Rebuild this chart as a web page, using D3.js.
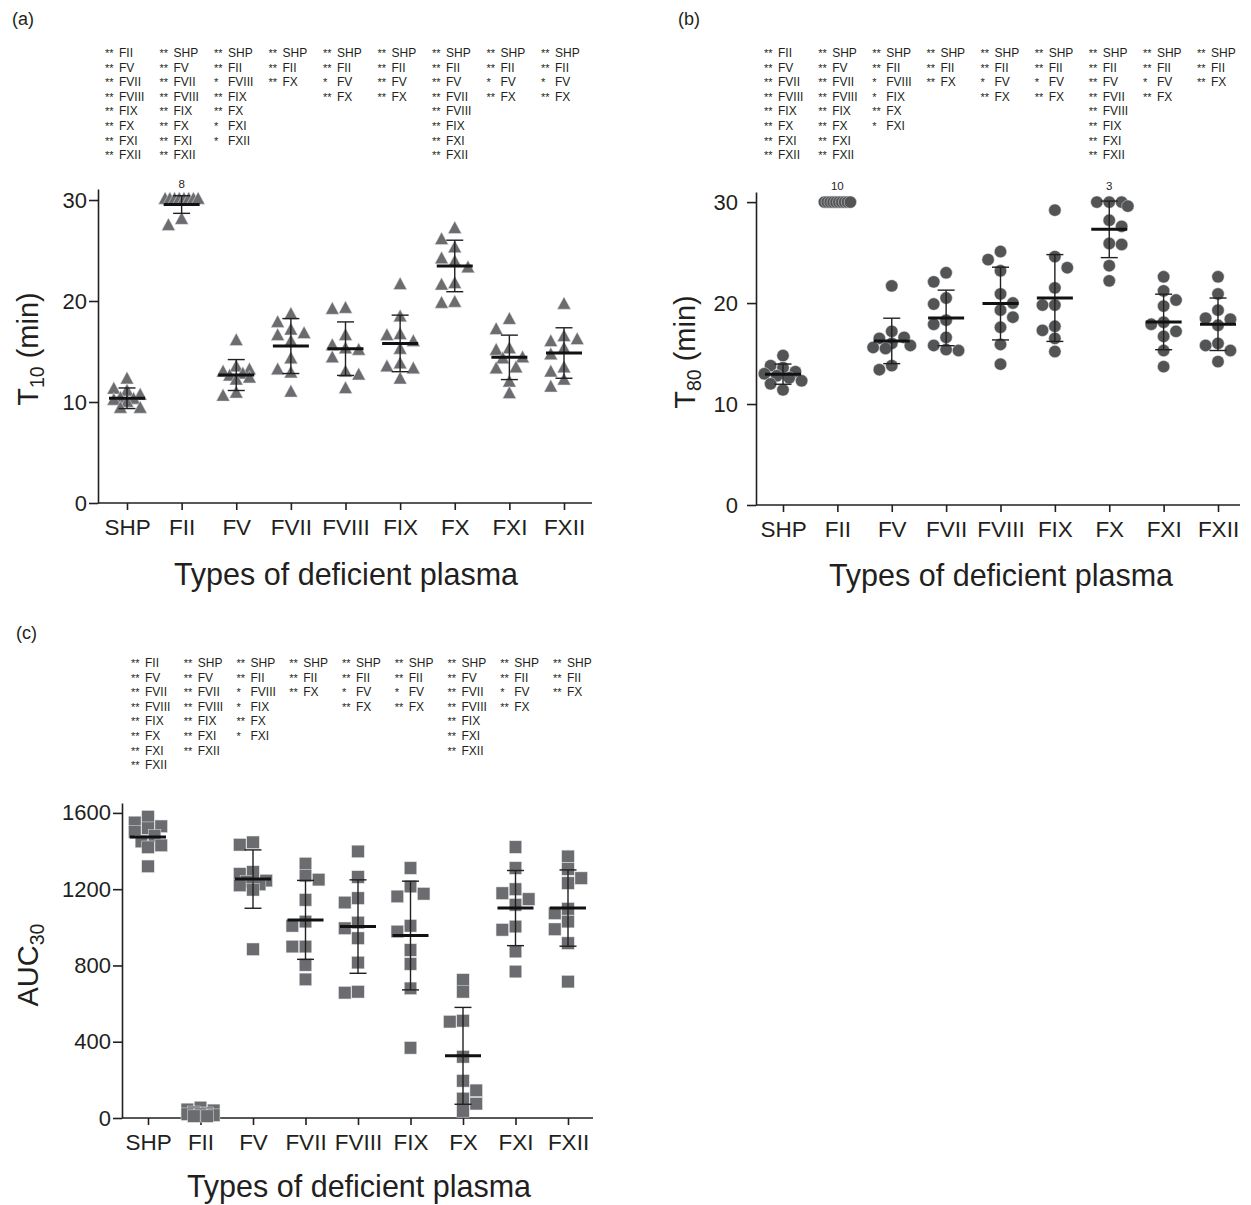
<!DOCTYPE html>
<html>
<head>
<meta charset="utf-8">
<script src="https://cdn.jsdelivr.net/npm/d3@7"></script>
<style>
  body { margin: 0; background: #fff; }
  svg { display: block; }
</style>
</head>
<body>
<svg id="chart" width="1251" height="1205"></svg>
<script>
// ---------------- DATA ----------------
const categories = ["SHP", "FII", "FV", "FVII", "FVIII", "FIX", "FX", "FXI", "FXII"];

// Panel (a): T10 (min), 10 plasmas per group (values capped at 30)
const t10Values = [
  [12.2, 11.2, 11.0, 10.6, 10.3, 10.2, 10.1, 9.9, 9.3, 9.3],
  [30, 30, 30, 30, 30, 30, 30, 30, 28.0, 27.4],
  [16.0, 13.4, 13.1, 12.9, 12.7, 12.5, 12.3, 12.1, 10.8, 10.5],
  [18.6, 17.8, 17.05, 16.7, 16.5, 15.9, 14.2, 13.1, 12.8, 10.9],
  [19.2, 19.1, 16.5, 15.5, 15.2, 15.05, 14.3, 12.9, 12.6, 11.25],
  [21.55, 18.35, 16.6, 16.5, 15.9, 15.15, 13.7, 13.4, 13.2, 12.2],
  [27.1, 26.0, 25.2, 24.1, 23.8, 23.2, 21.65, 21.5, 19.8, 19.7],
  [18.1, 17.1, 15.2, 15.05, 14.3, 14.2, 13.3, 13.2, 11.9, 10.75],
  [19.6, 16.4, 16.1, 15.9, 15.2, 14.6, 13.3, 12.9, 12.1, 11.4]
];
const t10Mean = [10.37, 29.55, 12.67, 15.54, 15.28, 15.8, 23.47, 14.42, 14.85];
const t10SD   = [1.02, 0.87, 1.53, 2.72, 2.65, 2.8, 2.55, 2.2, 2.5];

// Panel (b): T80 (min)
const t80Values = [
  [14.8, 13.8, 13.6, 13.2, 13.0, 12.8, 12.6, 12.3, 12.0, 11.4],
  [30, 30, 30, 30, 30, 30, 30, 30, 30, 30],
  [21.7, 17.2, 16.6, 16.5, 16.0, 15.8, 15.6, 15.5, 13.8, 13.4],
  [23.0, 22.1, 20.5, 19.9, 18.3, 17.9, 16.6, 15.8, 15.4, 15.3],
  [25.1, 24.3, 23.2, 20.9, 20.0, 19.3, 18.6, 17.6, 15.9, 13.95],
  [29.2, 24.6, 23.5, 21.5, 19.8, 19.8, 17.7, 17.3, 16.5, 15.2],
  [30, 30, 30, 29.6, 28.2, 27.6, 25.9, 25.8, 23.7, 22.2],
  [22.6, 21.2, 20.3, 19.7, 18.1, 17.9, 17.2, 16.7, 15.3, 13.7],
  [22.6, 20.9, 19.3, 18.5, 18.4, 17.8, 16.0, 15.8, 15.3, 14.2]
];
const t80Mean = [12.96, null, 16.25, 18.53, 19.95, 20.5, 27.3, 18.13, 17.9];
const t80SD   = [1.0, null, 2.25, 2.75, 3.6, 4.3, 2.8, 2.75, 2.6];

// Panel (c): AUC30
const aucValues = [
  [1580, 1550, 1530, 1520, 1500, 1480, 1450, 1430, 1420, 1320],
  [55, 45, 40, 30, 25, 20, 20, 15, 10, 10],
  [1446, 1433, 1290, 1280, 1245, 1240, 1225, 1220, 1197, 885],
  [1334, 1271, 1250, 1144, 1030, 1008, 899, 899, 803, 727],
  [1398, 1264, 1153, 1130, 1025, 995, 943, 815, 662, 657],
  [1311, 1214, 1176, 1162, 1008, 978, 881, 808, 680, 368],
  [724, 662, 510, 505, 321, 195, 145, 102, 75, 37],
  [1421, 1311, 1200, 1179, 1148, 1118, 1004, 987, 873, 768],
  [1372, 1306, 1258, 1232, 1097, 1074, 1030, 990, 917, 715]
];
const aucMean = [1474, null, 1253, 1039, 1004, 957, 326, 1101, 1101];
const aucSD   = [null, null, 153, 207, 245, 285, 254, 197, 200];

// Tick values
const tTicks = [0, 10, 20, 30];
const aucTicks = [0, 400, 800, 1200, 1600];

// Significance annotations (per column)
const sigA = [
  ["** FII", "** FV", "** FVII", "** FVIII", "** FIX", "** FX", "** FXI", "** FXII"],
  ["** SHP", "** FV", "** FVII", "** FVIII", "** FIX", "** FX", "** FXI", "** FXII"],
  ["** SHP", "** FII", "* FVIII", "** FIX", "** FX", "* FXI", "* FXII"],
  ["** SHP", "** FII", "** FX"],
  ["** SHP", "** FII", "* FV", "** FX"],
  ["** SHP", "** FII", "** FV", "** FX"],
  ["** SHP", "** FII", "** FV", "** FVII", "** FVIII", "** FIX", "** FXI", "** FXII"],
  ["** SHP", "** FII", "* FV", "** FX"],
  ["** SHP", "** FII", "* FV", "** FX"]
];
const sigB = [
  ["** FII", "** FV", "** FVII", "** FVIII", "** FIX", "** FX", "** FXI", "** FXII"],
  ["** SHP", "** FV", "** FVII", "** FVIII", "** FIX", "** FX", "** FXI", "** FXII"],
  ["** SHP", "** FII", "* FVIII", "* FIX", "** FX", "* FXI"],
  ["** SHP", "** FII", "** FX"],
  ["** SHP", "** FII", "* FV", "** FX"],
  ["** SHP", "** FII", "* FV", "** FX"],
  ["** SHP", "** FII", "** FV", "** FVII", "** FVIII", "** FIX", "** FXI", "** FXII"],
  ["** SHP", "** FII", "* FV", "** FX"],
  ["** SHP", "** FII", "** FX"]
];
const sigC = [
  ["** FII", "** FV", "** FVII", "** FVIII", "** FIX", "** FX", "** FXI", "** FXII"],
  ["** SHP", "** FV", "** FVII", "** FVIII", "** FIX", "** FXI", "** FXII"],
  ["** SHP", "** FII", "* FVIII", "* FIX", "** FX", "* FXI"],
  ["** SHP", "** FII", "** FX"],
  ["** SHP", "** FII", "* FV", "** FX"],
  ["** SHP", "** FII", "* FV", "** FX"],
  ["** SHP", "** FV", "** FVII", "** FVIII", "** FIX", "** FXI", "** FXII"],
  ["** SHP", "** FII", "* FV", "** FX"],
  ["** SHP", "** FII", "** FX"]
];

// ---------------- DRAWING ----------------
const FONT = "'Liberation Sans', Arial, Helvetica, sans-serif";
const ink = "#231f20";
const svg = d3.select("#chart");

function swarm(vals, y, w, h, maxHalf, tieSpan) {
  const pts = vals.map(v => ({ v, py: y(v), dx: 0, placed: false }));
  const placed = [];
  const counts = d3.rollup(vals, g => g.length, d => d);
  const ties = [];
  counts.forEach((n, v) => {
    if (n >= 3) {
      const s = Math.min(w, tieSpan / (n - 1));
      const grp = pts.filter(p => p.v === v);
      grp.forEach((p, i) => { p.dx = (i - (n - 1) / 2) * s; p.placed = true; placed.push(p); });
      ties.push({ v, n });
    }
  });
  const rest = pts.filter(p => !p.placed).sort((a, b) => b.v - a.v);
  const step = w / 2;
  rest.forEach((p, idx) => {
    const sign = idx % 2 ? -1 : 1;
    const cands = [0];
    for (let k = 1; k * step <= maxHalf + 0.01; k++) cands.push(sign * k * step, -sign * k * step);
    let best = 0, bestScore = -Infinity;
    for (const c of cands) {
      let collide = false, minD = Infinity;
      for (const q of placed) {
        const ddx = Math.abs(c - q.dx), ddy = Math.abs(p.py - q.py);
        if (ddx < w * 0.92 && ddy < h * 0.92) collide = true;
        minD = Math.min(minD, Math.hypot(ddx / w, ddy / h));
      }
      if (!collide) { best = c; bestScore = Infinity; break; }
      if (minD > bestScore) { bestScore = minD; best = c; }
    }
    p.dx = best; p.placed = true; placed.push(p);
  });
  return { pts, ties };
}

function trianglePath() {
  const W = 13.5, H = 12.5;
  return `M0,${-2 * H / 3}L${W / 2},${H / 3}L${-W / 2},${H / 3}Z`;
}

function drawPanel(cfg) {
  const g = svg.append("g");
  const x = d3.scalePoint().domain(categories).range(cfg.xCat);
  const y = d3.scaleLinear().domain(cfg.yDomain).range(cfg.yRange);

  // y axis
  const ya = g.append("g").attr("transform", `translate(${cfg.xAxis[0]},0)`)
    .call(d3.axisLeft(y).tickValues(cfg.yTicks).tickSize(9).tickSizeOuter(0).tickPadding(cfg.yPad).tickFormat(d3.format("d")));
  ya.select(".domain").attr("stroke", ink).attr("stroke-width", 1.6);
  ya.selectAll(".tick line").attr("stroke", ink).attr("stroke-width", 1.6);
  ya.selectAll(".tick text").attr("fill", ink).style("font-size", "22px").style("font-family", FONT);

  // x axis
  g.append("line").attr("x1", cfg.xAxis[0]).attr("x2", cfg.xAxis[1])
    .attr("y1", y(0)).attr("y2", y(0)).attr("stroke", ink).attr("stroke-width", 1.6);
  const xa = g.append("g").attr("transform", `translate(0,${y(0)})`)
    .call(d3.axisBottom(x).tickSize(7).tickSizeOuter(0).tickPadding(9));
  xa.select(".domain").remove();
  xa.selectAll(".tick line").attr("stroke", ink).attr("stroke-width", 1.6);
  xa.selectAll(".tick text").attr("fill", ink).style("font-size", "22.5px").style("font-family", FONT);

  // titles
  g.append("text").attr("x", cfg.xTitle[0]).attr("y", cfg.xTitle[1])
    .attr("text-anchor", "middle").attr("fill", ink)
    .style("font-size", "30.5px").style("font-family", FONT).text("Types of deficient plasma");
  const yt = g.append("text").attr("transform", `translate(${cfg.yTitle[0]},${cfg.yTitle[1]}) rotate(-90)`)
    .attr("text-anchor", "middle").attr("fill", ink)
    .style("font-size", "29px").style("font-family", FONT);
  yt.append("tspan").text(cfg.yLabel[0]);
  yt.append("tspan").attr("dy", 6).style("font-size", "19.5px").text(cfg.yLabel[1]);
  if (cfg.yLabel[2]) yt.append("tspan").attr("dy", -6).text(cfg.yLabel[2]);

  // panel letter
  g.append("text").attr("x", cfg.letterPos[0]).attr("y", cfg.letterPos[1]).attr("fill", ink)
    .style("font-size", "18px").style("font-family", FONT).text(cfg.letter);

  // significance annotations
  const xs = d3.scalePoint().domain(categories).range(cfg.sigX);
  cfg.sig.forEach((col, i) => col.forEach((s, j) => {
    const [stars, lab] = s.split(" ");
    const t = g.append("text").attr("x", xs(categories[i])).attr("y", cfg.sigY + j * cfg.sigDy)
      .attr("fill", ink).style("font-size", "12px").style("font-family", FONT);
    t.append("tspan").style("font-size", "11px").text(stars);
    t.append("tspan").attr("x", xs(categories[i]) + 14).text(lab);
  }));

  // points
  const w = cfg.shape === "circle" ? 12.4 : 13.2;
  const h = cfg.shape === "triangle" ? 12.5 : 12.4;
  categories.forEach((c, i) => {
    const { pts, ties } = swarm(cfg.values[i], y, w, h, cfg.maxHalf, cfg.tieSpan);
    const cx = x(c);
    const mg = g.append("g");
    pts.forEach(p => {
      if (cfg.shape === "triangle") {
        mg.append("path").attr("d", trianglePath())
          .attr("transform", `translate(${cx + p.dx},${p.py})`)
          .attr("fill", cfg.color).attr("stroke", "#e4e4e4").attr("stroke-width", 0.5);
      } else if (cfg.shape === "circle") {
        mg.append("circle").attr("cx", cx + p.dx).attr("cy", p.py).attr("r", 6.2)
          .attr("fill", cfg.color).attr("stroke", "#e4e4e4").attr("stroke-width", 0.5);
      } else {
        mg.append("rect").attr("x", cx + p.dx - 6.25).attr("y", p.py - 6.25)
          .attr("width", 12.5).attr("height", 12.5)
          .attr("fill", cfg.color).attr("stroke", "#e4e4e4").attr("stroke-width", 0.5);
      }
    });
    ties.forEach(t => {
      g.append("text").attr("x", cx).attr("y", y(t.v) - 12).attr("text-anchor", "middle")
        .attr("fill", ink).style("font-size", "11.5px").style("font-family", FONT).text(t.n);
    });

    const m = cfg.mean[i], sd = cfg.sd[i];
    if (m != null && sd != null) {
      const y1 = y(m + sd), y2 = y(m - sd);
      g.append("line").attr("x1", cx).attr("x2", cx).attr("y1", y1).attr("y2", y2)
        .attr("stroke", ink).attr("stroke-width", 1.4);
      [y1, y2].forEach(yy => g.append("line").attr("x1", cx - 8.5).attr("x2", cx + 8.5)
        .attr("y1", yy).attr("y2", yy).attr("stroke", ink).attr("stroke-width", 1.4));
    }
    if (m != null) {
      g.append("line").attr("x1", cx - 18).attr("x2", cx + 18).attr("y1", y(m)).attr("y2", y(m))
        .attr("stroke", "#111").attr("stroke-width", 3);
    }
  });
}

drawPanel({
  letter: "(a)", letterPos: [12, 25],
  values: t10Values, mean: t10Mean, sd: t10SD,
  xCat: [127, 564], xAxis: [98, 592],
  yDomain: [0, 31.09], yRange: [503, 189], yTicks: tTicks, yPad: 2,
  xTitle: [346, 585], yTitle: [38, 349], yLabel: ["T", "10", " (min)"],
  sig: sigA, sigX: [105, 541], sigY: 57, sigDy: 14.6,
  shape: "triangle", color: "#6b6c6f", maxHalf: 19, tieSpan: 33
});
drawPanel({
  letter: "(b)", letterPos: [678, 25],
  values: t80Values, mean: t80Mean, sd: t80SD,
  xCat: [783, 1218], xAxis: [756, 1240],
  yDomain: [0, 31], yRange: [505, 192], yTicks: tTicks, yPad: 9,
  xTitle: [1001, 586], yTitle: [695, 352], yLabel: ["T", "80", " (min)"],
  sig: sigB, sigX: [764, 1197], sigY: 57, sigDy: 14.6,
  shape: "circle", color: "#535456", maxHalf: 19, tieSpan: 26
});
drawPanel({
  letter: "(c)", letterPos: [16, 639],
  values: aucValues, mean: aucMean, sd: aucSD,
  xCat: [148, 568], xAxis: [122, 593],
  yDomain: [0, 1652], yRange: [1118, 803], yTicks: aucTicks, yPad: 2,
  xTitle: [359, 1197], yTitle: [38, 965], yLabel: ["AUC", "30", ""],
  sig: sigC, sigX: [131, 553], sigY: 667, sigDy: 14.6,
  shape: "square", color: "#6b6c6f", maxHalf: 19, tieSpan: 30
});
</script>
</body>
</html>
